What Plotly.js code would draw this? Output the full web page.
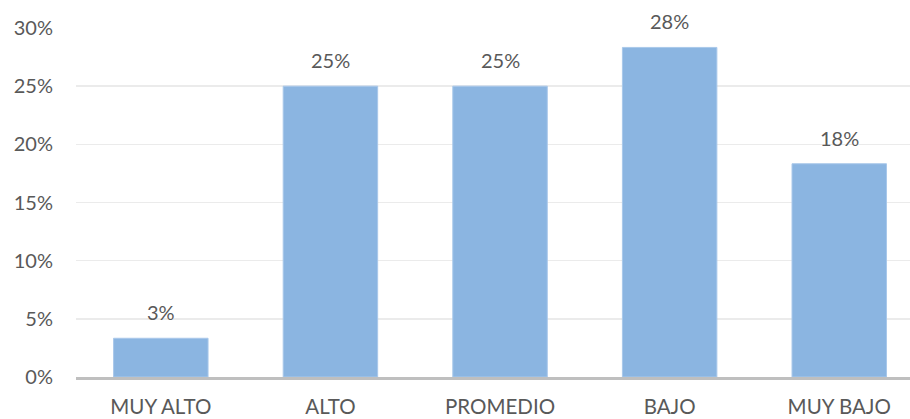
<!DOCTYPE html>
<html>
<head>
<meta charset="utf-8">
<script src="https://cdn.plot.ly/plotly-3.0.1.min.js"></script>
<style>html,body{margin:0;padding:0;background:#fff;}#chart{width:910px;height:419px;}</style>
</head>
<body>
<div id="chart"></div>
<script>
const categories = ["MUY ALTO", "ALTO", "PROMEDIO", "BAJO", "MUY BAJO"];
const values = [0.0333, 0.25, 0.25, 0.2833, 0.1833];
const labels = values.map(v => Math.round(v * 100) + "%");

const font = "Lato, 'Open Sans', 'DejaVu Sans', sans-serif";
const textColor = "#595959";

const trace = {
  type: "bar",
  x: categories,
  y: values,
  width: 0.557,
  marker: {color: "#8BB5E1", line: {color: "#A9C8EA", width: 1}},
  hoverinfo: "none"
};

const annotations = categories.map((c, i) => ({
  x: c, y: values[i], text: labels[i], showarrow: false,
  xanchor: "center", yanchor: "bottom", yshift: 12,
  font: {family: font, size: 20, color: textColor}
}));

const layout = {
  width: 910, height: 419,
  margin: {l: 76, r: 0, t: 28, b: 42, pad: 0},
  paper_bgcolor: "#fff", plot_bgcolor: "#fff",
  showlegend: false,
  font: {family: font, size: 20, color: textColor},
  xaxis: {
    type: "category",
    range: [-0.5, 4.417],
    showgrid: false,
    showline: true, linecolor: "#BFBFBF", linewidth: 2.5,
    ticks: "", ticklabelstandoff: 10,
    tickfont: {family: font, size: 20.5, color: textColor},
    fixedrange: true
  },
  yaxis: {
    range: [0, 0.30],
    tickvals: [0, 0.05, 0.10, 0.15, 0.20, 0.25, 0.30],
    tickformat: ".0%",
    showgrid: true, gridcolor: "#EBEBEB", gridwidth: 1.5,
    zeroline: false, showline: false,
    ticks: "", ticklabelstandoff: 22,
    tickfont: {family: font, size: 20, color: textColor},
    fixedrange: true
  },
  annotations: annotations
};

Plotly.newPlot("chart", [trace], layout, {displayModeBar: false, staticPlot: true});
</script>
</body>
</html>
